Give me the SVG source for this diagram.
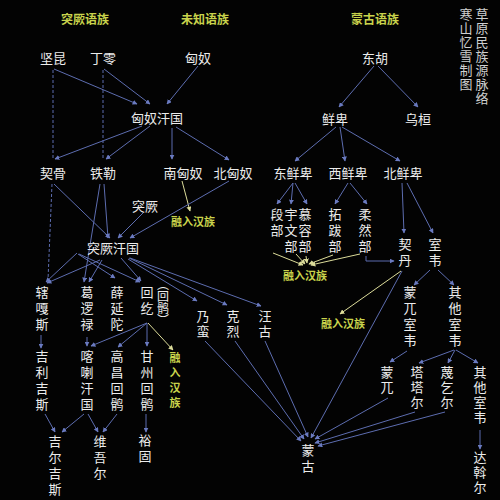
<svg xmlns="http://www.w3.org/2000/svg" width="500" height="500" viewBox="0 0 500 500">
<defs>
<style>
.n{fill:#ececec;font-family:"Noto Sans CJK SC","Noto Sans",sans-serif;font-size:13px;text-anchor:middle;dominant-baseline:central}
.v{fill:#ececec;font-family:"Noto Sans CJK SC","Noto Sans",sans-serif;font-size:13px;writing-mode:vertical-rl;text-orientation:upright;letter-spacing:3px}
.v2{letter-spacing:2px}
.y{fill:#c9d34c;font-family:"Noto Sans CJK SC","Noto Sans",sans-serif;font-size:11px;text-anchor:middle;dominant-baseline:central;font-weight:bold}
.yv{fill:#c9d34c;font-family:"Noto Sans CJK SC","Noto Sans",sans-serif;font-size:11px;font-weight:bold;writing-mode:vertical-rl;text-orientation:upright;letter-spacing:4px}
.h{fill:#c9d34c;font-family:"Noto Sans CJK SC","Noto Sans",sans-serif;font-size:12px;text-anchor:middle;dominant-baseline:central;font-weight:bold}
.t{fill:#cfcfcf;font-family:"Noto Sans CJK SC","Noto Sans",sans-serif;font-size:13px;writing-mode:vertical-rl;text-orientation:upright;letter-spacing:1px}
.l{stroke:#5d6db0;stroke-width:1;fill:none;marker-end:url(#ab)}
.d{stroke:#5d6db0;stroke-width:1;fill:none;stroke-dasharray:3 2}
.ly{stroke:#dcdc9a;stroke-width:1;fill:none;marker-end:url(#ay)}
</style>
<marker id="ab" viewBox="0 0 8 8" refX="7" refY="4" markerWidth="5" markerHeight="5" orient="auto"><path d="M0,0 L8,4 L0,8 z" fill="#6a7ac0"/></marker>
<marker id="ay" viewBox="0 0 8 8" refX="7" refY="4" markerWidth="5" markerHeight="5" orient="auto"><path d="M0,0 L8,4 L0,8 z" fill="#dcdc9a"/></marker>
</defs>
<rect width="500" height="500" fill="#030303"/>

<g id="connectors">
<path class="d" d="M53,70 V158"/>
<path class="d" d="M103,70 V158"/>
<path class="d" d="M52,184 L48,280"/>
<path class="l" d="M54,69 L137,104"/>
<path class="l" d="M104,69 L150,104"/>
<path class="l" d="M198,66 L167,104"/>
<path class="l" d="M142,126 L55,159"/>
<path class="l" d="M150,126 L106,159"/>
<path class="l" d="M172,128 L172,159"/>
<path class="l" d="M176,127 L229,160"/>
<path class="ly" d="M182,181 L190,211"/>
<path class="l" d="M229,181 L130,238"/>
<path class="l" d="M143,213 L118,238"/>
<path class="l" d="M54,184 L110,238"/>
<path class="l" d="M104,184 L108,238"/>
<path class="l" d="M100,184 L84,282"/>
<path class="l" d="M77,253 L46,282"/>
<path class="l" d="M100,260 L47,283"/>
<path class="l" d="M102,260 L89,282"/>
<path class="l" d="M78,254 L115,278"/>
<path class="l" d="M79,254 L140,282"/>
<path class="l" d="M121,258 L141,281"/>
<path class="l" d="M128,259 L197,301"/>
<path class="l" d="M129,258 L227,305"/>
<path class="l" d="M130,258 L261,306"/>
<path class="l" d="M41,335 L41,348"/>
<path class="l" d="M87,337 L87,346"/>
<path class="l" d="M147,323 L91,346"/>
<path class="l" d="M147,323 L118,347"/>
<path class="l" d="M147,323 L147,346"/>
<path class="ly" d="M148,323 L173,350"/>
<path class="l" d="M45,414 L55,432"/>
<path class="l" d="M84,414 L62,432"/>
<path class="l" d="M88,414 L98,432"/>
<path class="l" d="M117,414 L103,432"/>
<path class="l" d="M146,414 L146,432"/>

<path class="l" d="M374,66 L339,107"/>
<path class="l" d="M378,66 L418,107"/>
<path class="l" d="M336,127 L295,161"/>
<path class="l" d="M340,127 L345,161"/>
<path class="l" d="M342,127 L400,161"/>
<path class="l" d="M293,183 L277,204"/>
<path class="l" d="M293,183 L291,204"/>
<path class="l" d="M295,183 L307,204"/>
<path class="l" d="M348,183 L335,204"/>
<path class="l" d="M350,183 L367,204"/>
<path class="l" d="M402,183 L404,233"/>
<path class="l" d="M407,183 L433,233"/>
<path class="ly" d="M273,253 L303,265"/>
<path class="ly" d="M296,254 L305,264"/>
<path class="ly" d="M306,256 L307,263"/>
<path class="ly" d="M333,255 L309,264"/>
<path class="ly" d="M360,254 L311,265"/>
<path class="l" d="M366,256 V261 H394"/>
<path class="ly" d="M401,271 L340,314"/>
<path class="l" d="M402,271 L311,438"/>
<path class="l" d="M430,270 L414,285"/>
<path class="l" d="M438,270 L454,285"/>
<path class="l" d="M407,351 L390,362"/>
<path class="l" d="M454,350 L419,363"/>
<path class="l" d="M455,350 L448,363"/>
<path class="l" d="M456,350 L478,363"/>
<path class="l" d="M480,430 L480,449"/>
<path class="l" d="M205,341 L301,441"/>
<path class="l" d="M235,341 L304,439"/>
<path class="l" d="M265,341 L308,437"/>
<path class="l" d="M388,398 L315,439"/>
<path class="l" d="M415,412 L315,443"/>
<path class="l" d="M445,412 L318,446"/>
</g>

<g id="headers">
<text class="h" x="85" y="18">突厥语族</text>
<text class="h" x="205" y="18">未知语族</text>
<text class="h" x="375" y="18">蒙古语族</text>
</g>
<g id="title">
<text class="t" x="482" y="8">草原民族源脉络</text>
<text class="t" x="466" y="8">寒山忆雪制图</text>
</g>

<g id="jiankun"><text class="n" x="53" y="57">坚昆</text></g>
<g id="dingling"><text class="n" x="103" y="57">丁零</text></g>
<g id="xiongnu"><text class="n" x="198" y="57">匈奴</text></g>
<g id="xiongnu-khanate"><text class="n" x="157" y="117">匈奴汗国</text></g>
<g id="qigu"><text class="n" x="53" y="172">契骨</text></g>
<g id="tiele"><text class="n" x="103" y="172">铁勒</text></g>
<g id="south-xiongnu"><text class="n" x="183" y="172">南匈奴</text></g>
<g id="north-xiongnu"><text class="n" x="233" y="172">北匈奴</text></g>
<g id="han1"><text class="y" x="193" y="221">融入汉族</text></g>
<g id="tujue"><text class="n" x="145" y="205">突厥</text></g>
<g id="tujue-khanate"><text class="n" x="113" y="247">突厥汗国</text></g>
<g id="xiagasi"><text class="v" x="42" y="286">辖嘎斯</text></g>
<g id="geluolu"><text class="v" x="87" y="286">葛逻禄</text></g>
<g id="xueyantuo"><text class="v" x="117" y="286">薛延陀</text></g>
<g id="huihe"><text class="v" x="147" y="286">回纥</text><text class="v" x="163" y="278" style="font-size:12px;letter-spacing:0">（回鹘）</text></g>
<g id="naiman"><text class="v v2" x="203" y="310">乃蛮</text></g>
<g id="kelie"><text class="v v2" x="233" y="310">克烈</text></g>
<g id="wanggu"><text class="v v2" x="265" y="310">汪古</text></g>
<g id="jilijisi"><text class="v" x="42" y="350">吉利吉斯</text></g>
<g id="kalahan"><text class="v" x="87" y="350">喀喇汗国</text></g>
<g id="gaochang"><text class="v" x="117" y="350">高昌回鹘</text></g>
<g id="ganzhou"><text class="v" x="147" y="350">甘州回鹘</text></g>
<g id="han2"><text class="yv" x="175" y="352">融入汉族</text></g>
<g id="jierjisi"><text class="v" x="55" y="435">吉尔吉斯</text></g>
<g id="weiwuer"><text class="v" x="100" y="435">维吾尔</text></g>
<g id="yugu"><text class="v" x="145" y="434">裕固</text></g>

<g id="donghu"><text class="n" x="375" y="57">东胡</text></g>
<g id="xianbei"><text class="n" x="335" y="118">鲜卑</text></g>
<g id="wuhuan"><text class="n" x="418" y="118">乌桓</text></g>
<g id="east-xianbei"><text class="n" x="293" y="172">东鲜卑</text></g>
<g id="west-xianbei"><text class="n" x="348" y="172">西鲜卑</text></g>
<g id="north-xianbei"><text class="n" x="403" y="172">北鲜卑</text></g>
<g id="duanbu"><text class="v" x="277" y="208">段部</text></g>
<g id="yuwenbu"><text class="v" x="291" y="208">宇文部</text></g>
<g id="murongbu"><text class="v" x="305" y="208">慕容部</text></g>
<g id="tuobabu"><text class="v" x="335" y="208">拓跋部</text></g>
<g id="rouranbu"><text class="v" x="365" y="208">柔然部</text></g>
<g id="han3"><text class="y" x="305" y="275">融入汉族</text></g>
<g id="qidan"><text class="v" x="405" y="238">契丹</text></g>
<g id="shiwei"><text class="v" x="435" y="238">室韦</text></g>
<g id="mengwu-shiwei"><text class="v" x="410" y="286">蒙兀室韦</text></g>
<g id="other-shiwei"><text class="v" x="455" y="286">其他室韦</text></g>
<g id="han4"><text class="y" x="343" y="323">融入汉族</text></g>
<g id="mengwu"><text class="v v2" x="387" y="366">蒙兀</text></g>
<g id="tatar"><text class="v v2" x="417" y="366">塔塔尔</text></g>
<g id="mieqier"><text class="v v2" x="447" y="366">蔑乞尔</text></g>
<g id="other-shiwei-2"><text class="v v2" x="480" y="366">其他室韦</text></g>
<g id="dawoer"><text class="v v2" x="480" y="451">达斡尔</text></g>
<g id="menggu"><text class="v" x="308" y="444">蒙古</text></g>
</svg>
